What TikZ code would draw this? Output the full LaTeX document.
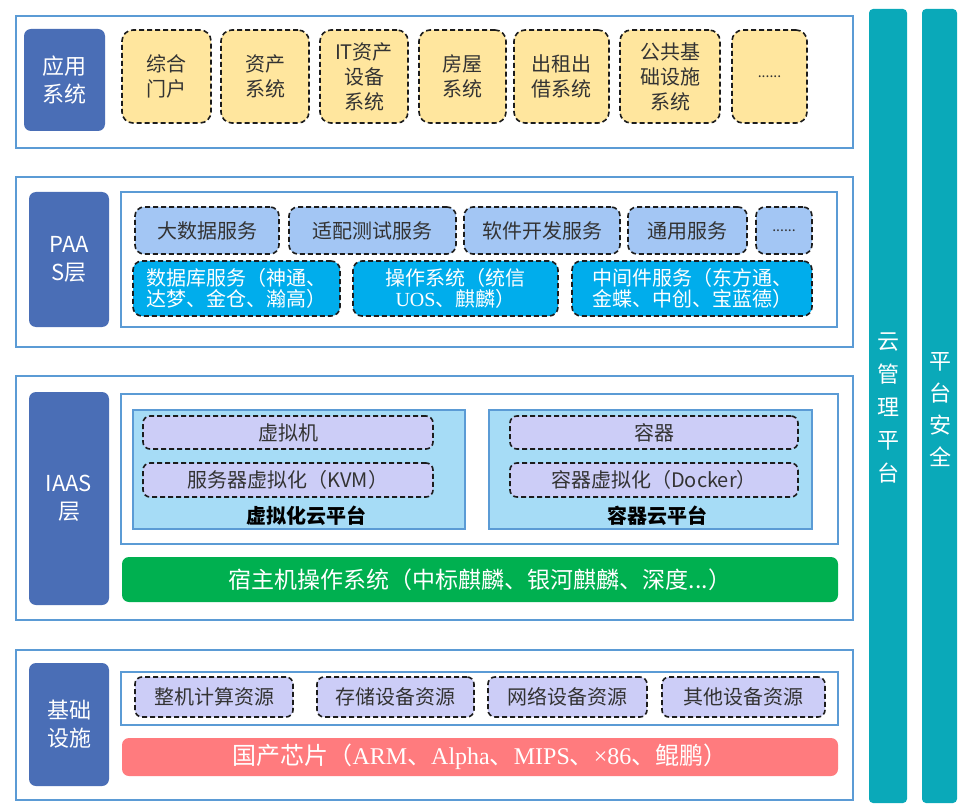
\documentclass[tikz,border=0pt]{standalone}
\usepackage{fontspec}
\setmainfont{Noto Sans CJK SC}
\newfontfamily\tms{Liberation Serif}
\definecolor{bord}{HTML}{5B9BD5}
\definecolor{labblue}{HTML}{4A6EB6}
\definecolor{teal}{HTML}{0AA9B9}
\definecolor{yel}{HTML}{FFE69E}
\definecolor{ltblue}{HTML}{A3C6F4}
\definecolor{cyanb}{HTML}{00ADEC}
\definecolor{lav}{HTML}{CCCDF7}
\definecolor{plat}{HTML}{A6DCF6}
\definecolor{grn}{HTML}{00B050}
\definecolor{red}{HTML}{FF7B7E}
\definecolor{txt}{HTML}{333333}
\definecolor{dashc}{HTML}{1C1C1C}
\newcommand\bx[7]{%
  \pgfmathsetmacro\cx{(#3+#5)/2}\pgfmathsetmacro\cy{(#4+#6)/2}%
  \pgfmathsetmacro\ww{#5-#3}\pgfmathsetmacro\hh{#6-#4}%
  \node[#1,minimum width=\ww pt,minimum height=\hh pt] (#2) at (\cx,\cy) {#7};}
\begin{document}
\begin{tikzpicture}[x=1pt,y=-1pt,
  every node/.style={inner sep=0pt,outer sep=0pt,align=center},
  outer/.style={draw=bord,line width=1.6pt,fill=white},
  innerb/.style={draw=bord,line width=1.1pt,fill=white},
  lab/.style={fill=labblue,rounded corners=7pt,text=white,font=\fontsize{22}{28}\selectfont},
  dbox/.style={draw=dashc,dash pattern=on 5pt off 3pt,line width=1.6pt,rounded corners=9pt,text=txt,font=\fontsize{20}{25}\selectfont},
  ybox/.style={dbox,fill=yel,rounded corners=11pt},
  bbox/.style={dbox,fill=ltblue},
  cbox/.style={dbox,fill=cyanb,text=white,font=\fontsize{20}{21.5}\selectfont},
  lbox/.style={dbox,fill=lav,rounded corners=7pt},
  platb/.style={draw=bord,line width=1.3pt,fill=plat},
  bar/.style={rounded corners=7pt,text=white},
  col/.style={fill=teal,rounded corners=4pt,text=white,font=\fontsize{22}{33}\selectfont}]
\useasboundingbox (0,0) rectangle (974,810);
% right columns
\bx{col}{cloud}{869}{9}{907}{803}{}
\bx{col}{sec}{922}{9}{957}{803}{}
\node[text=white,font=\fontsize{22}{33}\selectfont] (cloudt) at (888,408) {云\\管\\理\\平\\台};
\node[text=white,font=\fontsize{22}{32}\selectfont] (sect) at (940,410) {平\\台\\安\\全};
% application layer
\bx{outer}{appo}{16}{16}{853}{148}{}
\bx{lab}{appl}{24}{29}{105}{131}{应用\\系统}
\bx{ybox}{a1}{122}{30}{211}{123}{综合\\门户}
\bx{ybox}{a2}{221}{30}{309}{123}{资产\\系统}
\bx{ybox}{a3}{320}{30}{408}{123}{IT资产\\设备\\系统}
\bx{ybox}{a4}{419}{30}{506}{123}{房屋\\系统}
\bx{ybox}{a5}{514}{30}{609}{123}{出租出\\借系统}
\bx{ybox}{a6}{620}{30}{720}{123}{公共基\\础设施\\系统}
\bx{ybox}{a7}{732}{30}{807}{123}{\fontsize{14}{16}\selectfont ......}
% PAAS
\bx{outer}{paaso}{16}{177}{853}{347}{}
\bx{lab}{paasl}{29}{192}{109}{327}{PAA\\S层}
\bx{innerb}{paasi}{121}{192}{837}{327}{}
\bx{bbox}{p1}{135}{207}{279}{254}{大数据服务}
\bx{bbox}{p2}{289}{207}{456}{254}{适配测试服务}
\bx{bbox}{p3}{464}{207}{620}{254}{软件开发服务}
\bx{bbox}{p4}{628}{207}{747}{254}{通用服务}
\bx{bbox}{p5}{756}{207}{812}{254}{\fontsize{14}{16}\selectfont ......}
\bx{cbox}{q1}{133}{261}{340}{316}{数据库服务（神通、\\达梦、金仓、瀚高）}
\bx{cbox}{q2}{353}{261}{558}{316}{操作系统（统信\\{\tms UOS}、麒麟）}
\bx{cbox}{q3}{572}{261}{812}{316}{中间件服务（东方通、\\金蝶、中创、宝蓝德）}
% IAAS
\bx{outer}{iaaso}{16}{376}{853}{620}{}
\bx{lab}{iaasl}{29}{392}{109}{605}{IAAS\\层}
\bx{innerb}{iaasi}{121}{394}{838}{544}{}
\bx{platb}{vp}{133}{410}{465}{529}{}
\bx{platb}{cp}{489}{410}{812}{529}{}
\bx{lbox}{v1}{143}{416}{433}{449}{虚拟机}
\bx{lbox}{v2}{143}{463}{433}{497}{服务器虚拟化（KVM）}
\bx{lbox}{c1}{510}{416}{798}{449}{容器}
\bx{lbox}{c2}{510}{463}{798}{497}{容器虚拟化（Docker）}
\node[font=\fontsize{20}{24}\selectfont\bfseries,text=black] (vpt) at (306,516) {虚拟化云平台};
\node[font=\fontsize{20}{24}\selectfont\bfseries,text=black] (cpt) at (657,516) {容器云平台};
\bx{bar,fill=grn,font=\fontsize{23}{26}\selectfont}{host}{122}{557}{838}{602}{宿主机操作系统（中标麒麟、银河麒麟、深度...）}
% infrastructure
\bx{outer}{infro}{16}{650}{853}{800}{}
\bx{lab}{infrl}{29}{663}{109}{786}{基础\\设施}
\bx{innerb}{infri}{121}{672}{838}{725}{}
\bx{lbox}{r1}{135}{677}{293}{717}{整机计算资源}
\bx{lbox}{r2}{317}{677}{474}{717}{存储设备资源}
\bx{lbox}{r3}{488}{677}{647}{717}{网络设备资源}
\bx{lbox}{r4}{662}{677}{825}{717}{其他设备资源}
\bx{bar,fill=red,font=\fontsize{24}{26}\selectfont}{chip}{122}{738}{838}{776}{国产芯片（{\tms ARM}、{\tms Alpha}、{\tms MIPS}、{\tms ×86}、鲲鹏）}
\end{tikzpicture}
\end{document}
